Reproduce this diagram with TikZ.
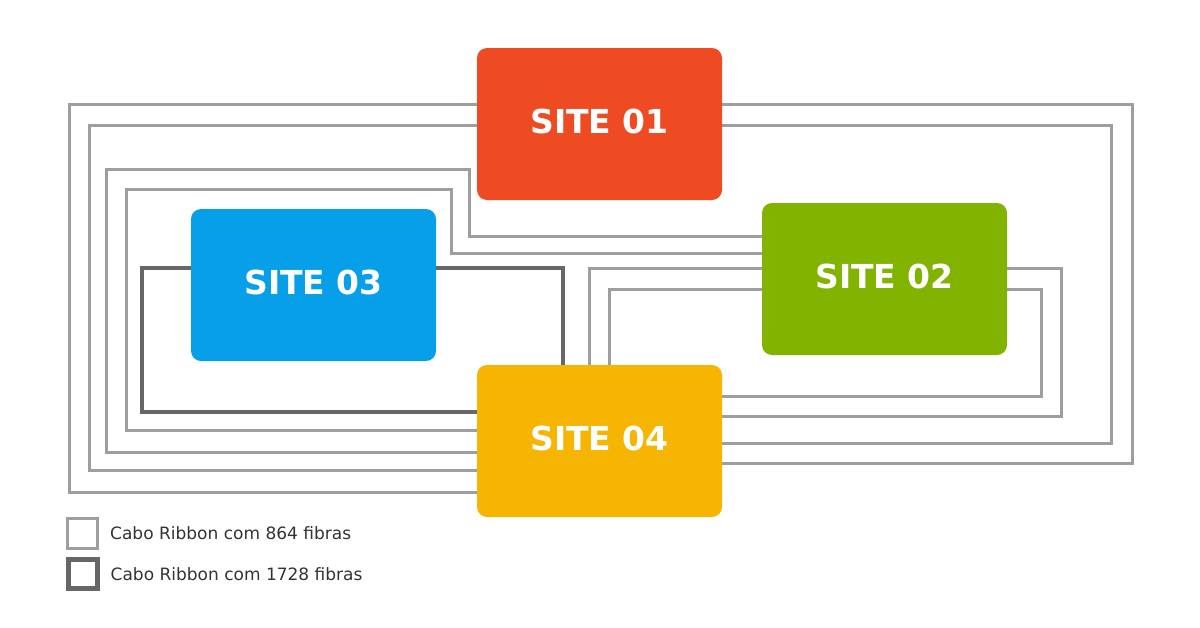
\documentclass[tikz,border=0pt]{standalone}
\usepackage{fontspec}
\setmainfont{DejaVu Sans}
\usepackage{tikz}
\usetikzlibrary{positioning,backgrounds}
\definecolor{orangesite}{HTML}{EE4B22}
\definecolor{greensite}{HTML}{81B300}
\definecolor{bluesite}{HTML}{07A0E8}
\definecolor{yellowsite}{HTML}{F6B403}
\definecolor{grayfino}{HTML}{9E9E9E}
\definecolor{grayforte}{HTML}{676767}
\definecolor{legendtext}{HTML}{333333}

\begin{document}
\begin{tikzpicture}[x=1pt, y=-1pt,
site/.style={ rectangle, rounded corners=10pt, minimum width=245pt, minimum height=152pt, inner sep=0pt, text depth=6pt, text=white, font=\fontsize{33}{40}\selectfont\bfseries },
thin cable/.style={ draw=grayfino, line width=3pt },
thick cable/.style={ draw=grayforte, line width=4.5pt },
legend box/.style={ rectangle, inner sep=0pt },
legend text/.style={ inner sep=0pt, text=legendtext, font=\fontsize{17}{20}\selectfont }]

\useasboundingbox (0,0) rectangle (1200,627);

%sites
\node (s1) [site, fill=orangesite] at (599.5,124) {SITE 01};
\node (s2) [site, fill=greensite] at (884.5,279) {SITE 02};
\node (s3) [site, fill=bluesite] at (313.5,285) {SITE 03};
\node (s4) [site, fill=yellowsite] at (599.5,441) {SITE 04};

\begin{pgfonlayer}{background}
\fill [white] (0,0) rectangle (1200,627);
%site 01 - site 04
\draw [thin cable] (s1.west |- 0,104) -- (69,104) |- (s4.west |- 0,492);
\draw [thin cable] (s1.west |- 0,125) -- (89,125) |- (s4.west |- 0,470);
\draw [thin cable] (s1.east |- 0,104) -- (1132,104) |- (s4.east |- 0,463);
\draw [thin cable] (s1.east |- 0,125) -- (1111,125) |- (s4.east |- 0,443);
%site 02 - site 04
\draw [thin cable] (s2.west |- 0,236) -- (469,236) -- (469,169) -- (106,169) |- (s4.west |- 0,452);
\draw [thin cable] (s2.west |- 0,253) -- (451,253) -- (451,189) -- (126,189) |- (s4.west |- 0,430);
\draw [thin cable] (s2.west |- 0,268) -| (s4.north -| 589,0);
\draw [thin cable] (s2.west |- 0,289) -| (s4.north -| 609,0);
\draw [thin cable] (s2.east |- 0,268) -- (1061,268) |- (s4.east |- 0,416);
\draw [thin cable] (s2.east |- 0,289) -- (1041,289) |- (s4.east |- 0,396);
%site 03 - site 04
\draw [thick cable] (s3.west |- 0,268) -- (142,268) |- (s4.west |- 0,412);
\draw [thick cable] (s3.east |- 0,268) -| (s4.north -| 563,0);
\end{pgfonlayer}

%legend
\node (leg864) [legend box, draw=grayfino, line width=3pt, minimum size=30pt] at (82.5,533) {};
\node (txt864) [legend text, right = 11pt of leg864] {Cabo Ribbon com 864 fibras};
\node (leg1728) [legend box, draw=grayforte, line width=5pt, minimum size=29pt] at (82.5,574) {};
\node (txt1728) [legend text, right = 11pt of leg1728] {Cabo Ribbon com 1728 fibras};

\end{tikzpicture}
\end{document}
